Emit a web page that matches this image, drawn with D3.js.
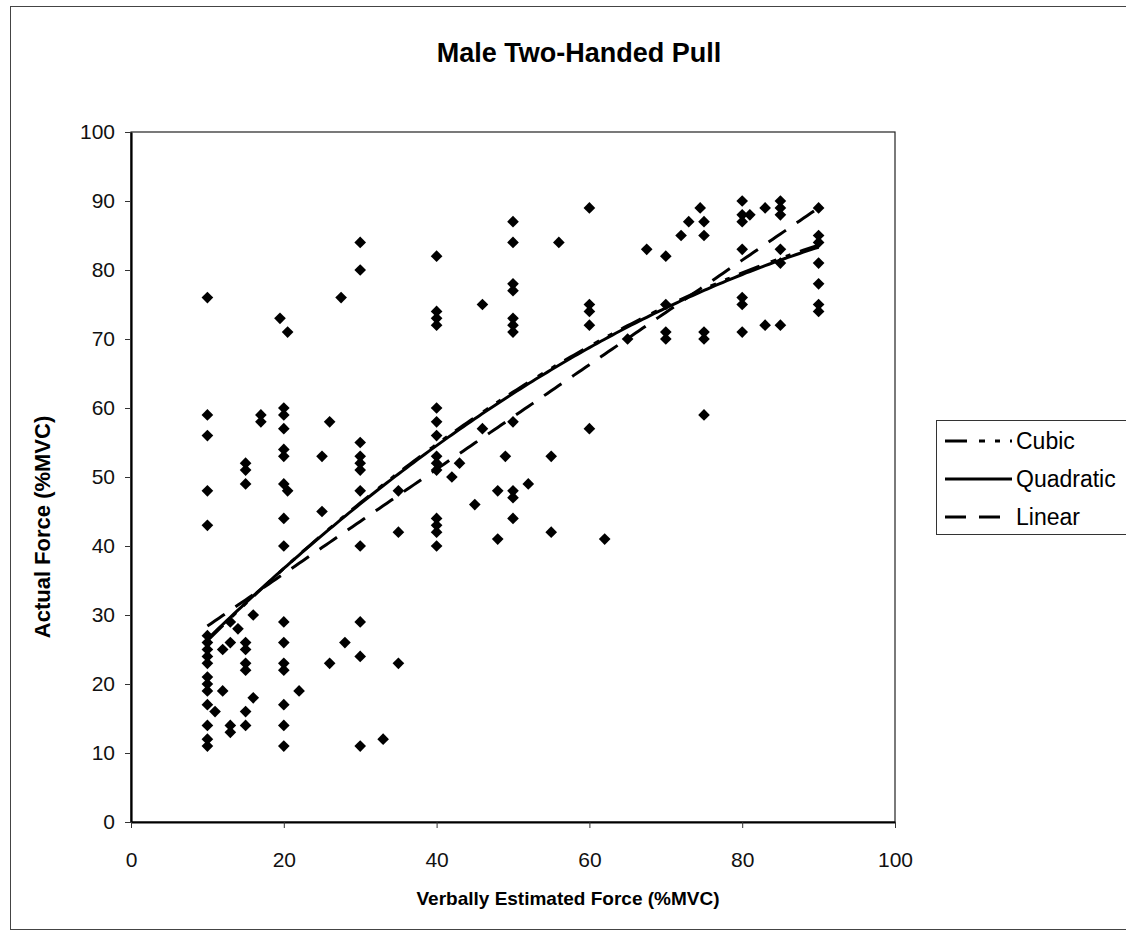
<!DOCTYPE html>
<html>
<head>
<meta charset="utf-8">
<script src="https://cdn.jsdelivr.net/npm/d3@7"></script>
<style>
  body { margin: 0; background: #fff; }
  svg { display: block; font-family: "Liberation Sans", Arial, sans-serif; }
</style>
</head>
<body>
<svg id="chart" width="1126" height="936"></svg>
<script>
// estimated force levels (%MVC) and the actual forces recorded at each one
const estLevels = [10, 11, 12, 13, 14, 15, 16, 17, 19.5, 20, 20.5, 22, 25, 26, 27.5, 28,
  30, 33, 35, 40, 42, 43, 45, 46, 48, 49, 50, 52, 55, 56, 60, 62, 65, 67.5,
  70, 72, 73, 74.5, 75, 80, 81, 83, 85, 90]
const actualByLevel = [
  [76, 59, 56, 48, 43, 27, 26, 25, 24, 23, 21, 20, 19, 17, 14, 12, 11],
  [16],
  [25, 19],
  [29, 26, 14, 13],
  [28],
  [52, 51, 49, 26, 25, 23, 22, 16, 14],
  [30, 18],
  [59, 58],
  [73],
  [60, 59, 57, 54, 53, 49, 44, 40, 29, 26, 23, 22, 17, 14, 11],
  [71, 48],
  [19],
  [53, 45],
  [58, 23],
  [76],
  [26],
  [84, 80, 55, 53, 52, 51, 48, 40, 29, 24, 11],
  [12],
  [48, 42, 23],
  [82, 74, 73, 72, 60, 58, 56, 53, 52, 51, 44, 43, 42, 40],
  [50],
  [52],
  [46],
  [75, 57],
  [48, 41],
  [53],
  [87, 84, 78, 77, 73, 72, 71, 58, 48, 47, 44],
  [49],
  [53, 42],
  [84],
  [89, 75, 74, 72, 57],
  [41],
  [70],
  [83],
  [82, 75, 71, 70],
  [85],
  [87],
  [89],
  [87, 85, 71, 70, 59],
  [90, 88, 87, 83, 76, 75, 71],
  [88],
  [89, 72],
  [90, 89, 88, 83, 81, 72],
  [89, 85, 84, 81, 78, 75, 74]
]

// trendline coefficients (constant first)
const cubicCoef = [14.8, 1.2, -0.0052, 0.000004]
const quadCoef = [15.35, 1.16, -0.0045]
const linearCoef = [20.83, 0.7575]
const fitRange = [10, 90]

const xTicks = [0, 20, 40, 60, 80, 100]
const yTicks = [0, 10, 20, 30, 40, 50, 60, 70, 80, 90, 100]
const legendNames = ["Cubic", "Quadratic", "Linear"]

const points = []
estLevels.forEach((lv, i) => actualByLevel[i].forEach(v => points.push({ est: lv, act: v })))

const svg = d3.select("#chart")

// outer chart frame
svg.append("rect")
  .attr("x", 10.5).attr("y", 6.5).attr("width", 1130).attr("height", 923)
  .attr("fill", "none").attr("stroke", "#444").attr("stroke-width", 1)

const x = d3.scaleLinear().domain([0, 100]).range([131, 895])
const y = d3.scaleLinear().domain([0, 100]).range([822, 132])

// plot area frame (top / right thin)
svg.append("rect")
  .attr("x", x(0)).attr("y", y(100))
  .attr("width", x(100) - x(0)).attr("height", y(0) - y(100))
  .attr("fill", "none").attr("stroke", "#222").attr("stroke-width", 1.2)

const yAxis = svg.append("g")
  .attr("transform", "translate(" + x(0) + ",0)")
  .call(d3.axisLeft(y).tickValues(yTicks).tickSize(6).tickSizeOuter(0).tickPadding(10))
const xAxis = svg.append("g")
  .attr("transform", "translate(0," + y(0) + ")")
  .call(d3.axisBottom(x).tickValues(xTicks).tickSize(6).tickSizeOuter(0).tickPadding(24))

;[yAxis, xAxis].forEach(g => {
  g.select(".domain").attr("stroke", "#000").attr("stroke-width", 2.2)
  g.selectAll(".tick line").attr("stroke", "#333")
  g.selectAll(".tick text")
    .attr("font-family", "'Liberation Sans', Arial, sans-serif")
    .attr("font-size", 21).attr("fill", "#111")
})

// markers
const diamond = d3.symbol().type(d3.symbolSquare).size(68)
svg.append("g").selectAll("path")
  .data(points)
  .enter().append("path")
    .attr("d", diamond)
    .attr("transform", d => "translate(" + x(d.est) + "," + y(d.act) + ") rotate(45)")
    .attr("fill", "#000")

// trendlines (cubic sits almost under the quadratic one)
const poly = coef => v => coef.reduce((s, c, k) => s + c * Math.pow(v, k), 0)
const xs = d3.range(fitRange[0], fitRange[1] + 0.01, 0.5)
const trend = d3.line().x(d => x(d[0])).y(d => y(d[1]))

const fits = [
  { name: "Cubic", f: poly(cubicCoef), dash: "22,12,6,10,5,10" },
  { name: "Linear", f: poly(linearCoef), dash: "21,13" },
  { name: "Quadratic", f: poly(quadCoef), dash: null }
]

fits.forEach(ft => {
  svg.append("path")
    .datum(xs.map(v => [v, ft.f(v)]))
    .attr("d", trend)
    .attr("fill", "none")
    .attr("stroke", "#000")
    .attr("stroke-width", 3)
    .attr("stroke-dasharray", ft.dash)
})

// title and axis titles
svg.append("text")
  .attr("x", 579).attr("y", 62)
  .attr("text-anchor", "middle")
  .attr("font-size", 27).attr("font-weight", "bold")
  .text("Male Two-Handed Pull")

svg.append("text")
  .attr("x", 568).attr("y", 905)
  .attr("text-anchor", "middle")
  .attr("font-size", 19).attr("font-weight", "bold")
  .text("Verbally Estimated Force (%MVC)")

svg.append("text")
  .attr("transform", "translate(50,527) rotate(-90)")
  .attr("text-anchor", "middle")
  .attr("font-size", 22).attr("font-weight", "bold")
  .text("Actual Force (%MVC)")

// legend
const legend = svg.append("g")
legend.append("rect")
  .attr("x", 936.5).attr("y", 420.5).attr("width", 200).attr("height", 114)
  .attr("fill", "#fff").attr("stroke", "#333").attr("stroke-width", 1)

const legendY = d3.scalePoint().domain(legendNames).range([441, 517])
fits.forEach(ft => {
  const ly = legendY(ft.name)
  legend.append("line")
    .attr("x1", 945).attr("x2", 1012).attr("y1", ly).attr("y2", ly)
    .attr("stroke", "#000").attr("stroke-width", 3)
    .attr("stroke-dasharray", ft.dash)
  legend.append("text")
    .attr("x", 1016).attr("y", ly).attr("dy", "0.35em")
    .attr("font-size", 23)
    .text(ft.name)
})
</script>
</body>
</html>
